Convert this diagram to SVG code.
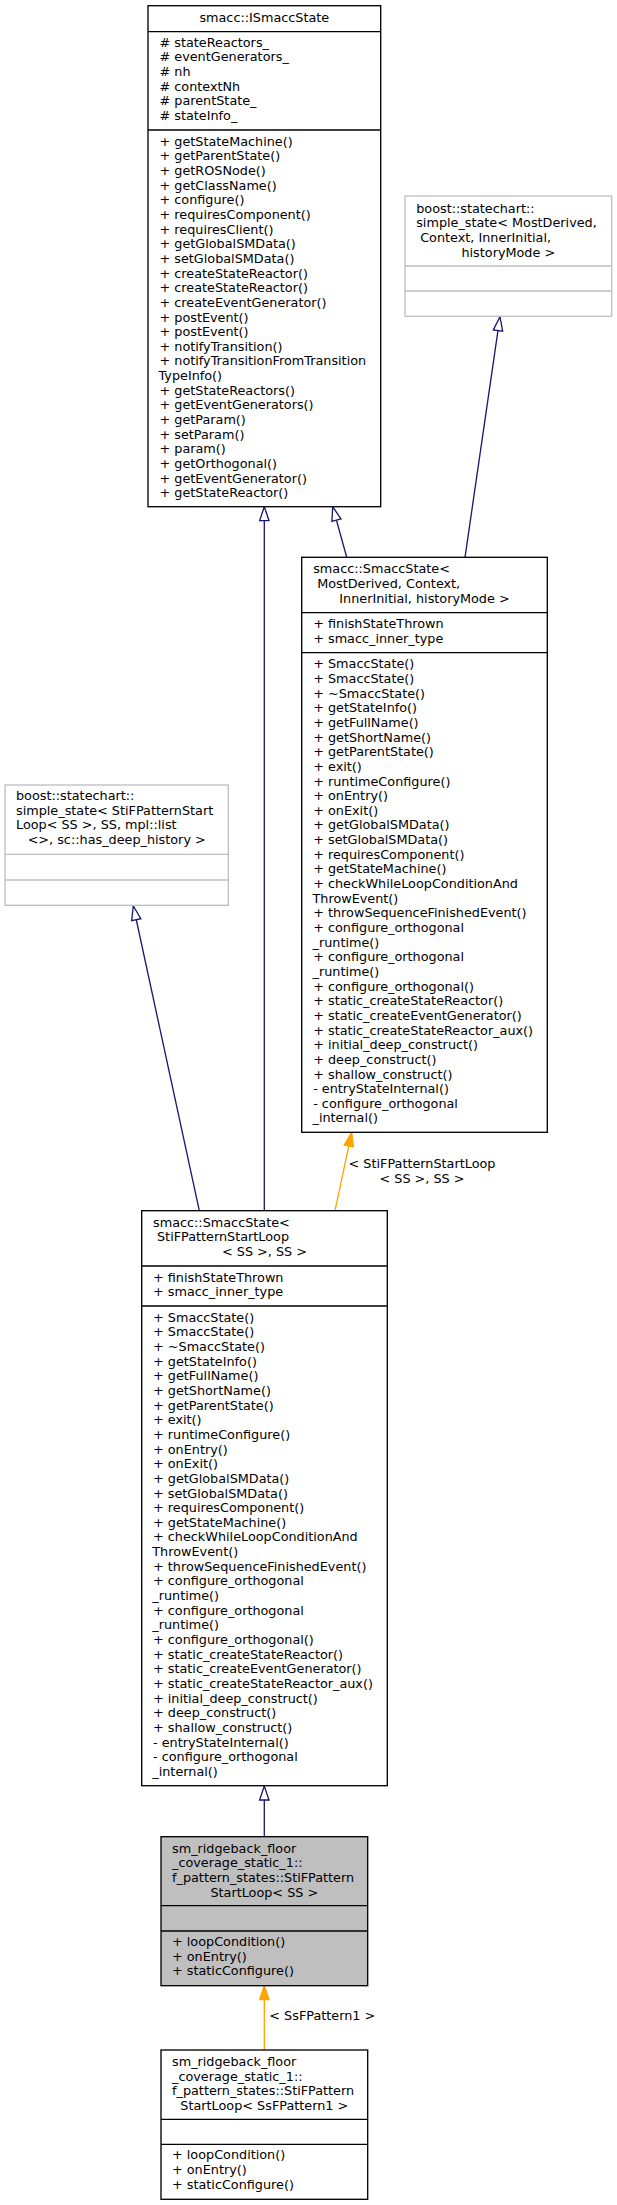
<svg xmlns="http://www.w3.org/2000/svg" width="617" height="2205" viewBox="0 0 617 2205">
<style>
text{font-family:"DejaVu Sans","Liberation Sans",sans-serif;font-size:12.8px;fill:#000}
.c{text-anchor:middle}
.box{fill:#fff;stroke:#000;stroke-width:1.33}
.ext{fill:#fff;stroke:#bfbfbf;stroke-width:1.33}
.hl{fill:#bfbfbf;stroke:#000;stroke-width:1.33}
.sep{stroke:#000;stroke-width:1.33}
.sepx{stroke:#bfbfbf;stroke-width:1.33}
.eb{stroke:#191970;stroke-width:1.33;fill:none}
.eo{stroke:#ffa500;stroke-width:1.33;fill:none}
</style>
<defs>
<marker id="hollow" markerUnits="userSpaceOnUse" markerWidth="20" markerHeight="20" refX="14" refY="5" orient="auto" overflow="visible">
<path d="M0,0.3 L14,5 L0,9.7 Z" fill="#fff" stroke="#191970" stroke-width="1.33"/>
</marker>
<marker id="filled" markerUnits="userSpaceOnUse" markerWidth="20" markerHeight="20" refX="14" refY="5" orient="auto" overflow="visible">
<path d="M0,0.3 L14,5 L0,9.7 Z" fill="#ffa500" stroke="#ffa500" stroke-width="1.33"/>
</marker>
</defs>

<g id="connectors">
<path class="eb" d="M264.3,1210.7 L264.3,506.7" marker-end="url(#hollow)"/>
<path class="eb" d="M346.7,557.3 L332.7,506.7" marker-end="url(#hollow)"/>
<path class="eb" d="M465,557.3 L500,316.7" marker-end="url(#hollow)"/>
<path class="eb" d="M199.3,1210.7 L133.3,906" marker-end="url(#hollow)"/>
<path class="eo" d="M335,1210.7 L351.7,1132.3" marker-end="url(#filled)"/>
<text x="422" y="1168.3" class="c">&lt; StiFPatternStartLoop</text>
<text x="422" y="1182.9" class="c">&lt; SS &gt;, SS &gt;</text>
<path class="eb" d="M264.3,1836.7 L264.3,1786" marker-end="url(#hollow)"/>
<path class="eo" d="M264.3,2050 L264.3,1985.7" marker-end="url(#filled)"/>
<text x="269.3" y="2020">&lt; SsFPattern1 &gt;</text>
</g>

<g id="node-ISmaccState">
<rect class="box" x="148" y="5.7" width="232.7" height="501"/>
<line class="sep" x1="148" y1="31.7" x2="380.7" y2="31.7"/>
<line class="sep" x1="148" y1="130" x2="380.7" y2="130"/>
<text x="264.3" y="21.7" class="c">smacc::ISmaccState</text>
<text x="159.5" y="46.7"># stateReactors_</text>
<text x="159.5" y="61.35"># eventGenerators_</text>
<text x="159.5" y="76"># nh</text>
<text x="159.5" y="90.65"># contextNh</text>
<text x="159.5" y="105.3"># parentState_</text>
<text x="159.5" y="119.95"># stateInfo_</text>
<text x="159.5" y="145.7">+ getStateMachine()</text>
<text x="159.5" y="160.35">+ getParentState()</text>
<text x="159.5" y="175">+ getROSNode()</text>
<text x="159.5" y="189.65">+ getClassName()</text>
<text x="159.5" y="204.3">+ configure()</text>
<text x="159.5" y="218.95">+ requiresComponent()</text>
<text x="159.5" y="233.6">+ requiresClient()</text>
<text x="159.5" y="248.25">+ getGlobalSMData()</text>
<text x="159.5" y="262.9">+ setGlobalSMData()</text>
<text x="159.5" y="277.55">+ createStateReactor()</text>
<text x="159.5" y="292.2">+ createStateReactor()</text>
<text x="159.5" y="306.85">+ createEventGenerator()</text>
<text x="159.5" y="321.5">+ postEvent()</text>
<text x="159.5" y="336.15">+ postEvent()</text>
<text x="159.5" y="350.8">+ notifyTransition()</text>
<text x="159.5" y="365.45">+ notifyTransitionFromTransition</text>
<text x="158.5" y="380.1">TypeInfo()</text>
<text x="159.5" y="394.75">+ getStateReactors()</text>
<text x="159.5" y="409.4">+ getEventGenerators()</text>
<text x="159.5" y="424.05">+ getParam()</text>
<text x="159.5" y="438.7">+ setParam()</text>
<text x="159.5" y="453.35">+ param()</text>
<text x="159.5" y="468">+ getOrthogonal()</text>
<text x="159.5" y="482.65">+ getEventGenerator()</text>
<text x="159.5" y="497.3">+ getStateReactor()</text>
</g>

<g id="node-simple_state-MostDerived">
<rect class="ext" x="405" y="196" width="206.7" height="120.3"/>
<line class="sepx" x1="405" y1="266" x2="611.7" y2="266"/>
<line class="sepx" x1="405" y1="291" x2="611.7" y2="291"/>
<text x="416.2" y="212.7">boost::statechart::</text>
<text x="416.2" y="227.35">simple_state&lt; MostDerived,</text>
<text x="420.2" y="242">Context, InnerInitial,</text>
<text x="508.3" y="256.65" class="c">historyMode &gt;</text>
</g>

<g id="node-SmaccState-MostDerived">
<rect class="box" x="301.7" y="557.3" width="245.6" height="575"/>
<line class="sep" x1="301.7" y1="612.7" x2="547.3" y2="612.7"/>
<line class="sep" x1="301.7" y1="652.7" x2="547.3" y2="652.7"/>
<text x="313.2" y="573.3">smacc::SmaccState&lt;</text>
<text x="317.2" y="587.95">MostDerived, Context,</text>
<text x="424.5" y="602.6" class="c">InnerInitial, historyMode &gt;</text>
<text x="313.2" y="628.3">+ finishStateThrown</text>
<text x="313.2" y="642.95">+ smacc_inner_type</text>
<text x="313.2" y="668.3">+ SmaccState()</text>
<text x="313.2" y="682.95">+ SmaccState()</text>
<text x="313.2" y="697.6">+ ~SmaccState()</text>
<text x="313.2" y="712.25">+ getStateInfo()</text>
<text x="313.2" y="726.9">+ getFullName()</text>
<text x="313.2" y="741.55">+ getShortName()</text>
<text x="313.2" y="756.2">+ getParentState()</text>
<text x="313.2" y="770.85">+ exit()</text>
<text x="313.2" y="785.5">+ runtimeConfigure()</text>
<text x="313.2" y="800.15">+ onEntry()</text>
<text x="313.2" y="814.8">+ onExit()</text>
<text x="313.2" y="829.45">+ getGlobalSMData()</text>
<text x="313.2" y="844.1">+ setGlobalSMData()</text>
<text x="313.2" y="858.75">+ requiresComponent()</text>
<text x="313.2" y="873.4">+ getStateMachine()</text>
<text x="313.2" y="888.05">+ checkWhileLoopConditionAnd</text>
<text x="312.5" y="902.7">ThrowEvent()</text>
<text x="313.2" y="917.35">+ throwSequenceFinishedEvent()</text>
<text x="313.2" y="932">+ configure_orthogonal</text>
<text x="312.5" y="946.65">_runtime()</text>
<text x="313.2" y="961.3">+ configure_orthogonal</text>
<text x="312.5" y="975.95">_runtime()</text>
<text x="313.2" y="990.6">+ configure_orthogonal()</text>
<text x="313.2" y="1005.25">+ static_createStateReactor()</text>
<text x="313.2" y="1019.9">+ static_createEventGenerator()</text>
<text x="313.2" y="1034.55">+ static_createStateReactor_aux()</text>
<text x="313.2" y="1049.2">+ initial_deep_construct()</text>
<text x="313.2" y="1063.85">+ deep_construct()</text>
<text x="313.2" y="1078.5">+ shallow_construct()</text>
<text x="313.2" y="1093.15">- entryStateInternal()</text>
<text x="313.2" y="1107.8">- configure_orthogonal</text>
<text x="312.5" y="1122.45">_internal()</text>
</g>

<g id="node-simple_state-StiFPatternStartLoop">
<rect class="ext" x="5" y="785" width="223.3" height="120.3"/>
<line class="sepx" x1="5" y1="854.3" x2="228.3" y2="854.3"/>
<line class="sepx" x1="5" y1="880" x2="228.3" y2="880"/>
<text x="16" y="800">boost::statechart::</text>
<text x="16" y="814.65">simple_state&lt; StiFPatternStart</text>
<text x="16" y="829.3">Loop&lt; SS &gt;, SS, mpl::list</text>
<text x="116.7" y="843.95" class="c">&lt;&gt;, sc::has_deep_history &gt;</text>
</g>

<g id="node-SmaccState-StiFPatternStartLoop">
<rect class="box" x="141.7" y="1210.7" width="245.6" height="575"/>
<line class="sep" x1="141.7" y1="1266" x2="387.3" y2="1266"/>
<line class="sep" x1="141.7" y1="1306" x2="387.3" y2="1306"/>
<text x="153" y="1226.7">smacc::SmaccState&lt;</text>
<text x="157" y="1241.35">StiFPatternStartLoop</text>
<text x="264.5" y="1256" class="c">&lt; SS &gt;, SS &gt;</text>
<text x="153" y="1281.7">+ finishStateThrown</text>
<text x="153" y="1296.35">+ smacc_inner_type</text>
<text x="153" y="1321.7">+ SmaccState()</text>
<text x="153" y="1336.35">+ SmaccState()</text>
<text x="153" y="1351">+ ~SmaccState()</text>
<text x="153" y="1365.65">+ getStateInfo()</text>
<text x="153" y="1380.3">+ getFullName()</text>
<text x="153" y="1394.95">+ getShortName()</text>
<text x="153" y="1409.6">+ getParentState()</text>
<text x="153" y="1424.25">+ exit()</text>
<text x="153" y="1438.9">+ runtimeConfigure()</text>
<text x="153" y="1453.55">+ onEntry()</text>
<text x="153" y="1468.2">+ onExit()</text>
<text x="153" y="1482.85">+ getGlobalSMData()</text>
<text x="153" y="1497.5">+ setGlobalSMData()</text>
<text x="153" y="1512.15">+ requiresComponent()</text>
<text x="153" y="1526.8">+ getStateMachine()</text>
<text x="153" y="1541.45">+ checkWhileLoopConditionAnd</text>
<text x="152.3" y="1556.1">ThrowEvent()</text>
<text x="153" y="1570.75">+ throwSequenceFinishedEvent()</text>
<text x="153" y="1585.4">+ configure_orthogonal</text>
<text x="152.3" y="1600.05">_runtime()</text>
<text x="153" y="1614.7">+ configure_orthogonal</text>
<text x="152.3" y="1629.35">_runtime()</text>
<text x="153" y="1644">+ configure_orthogonal()</text>
<text x="153" y="1658.65">+ static_createStateReactor()</text>
<text x="153" y="1673.3">+ static_createEventGenerator()</text>
<text x="153" y="1687.95">+ static_createStateReactor_aux()</text>
<text x="153" y="1702.6">+ initial_deep_construct()</text>
<text x="153" y="1717.25">+ deep_construct()</text>
<text x="153" y="1731.9">+ shallow_construct()</text>
<text x="153" y="1746.55">- entryStateInternal()</text>
<text x="153" y="1761.2">- configure_orthogonal</text>
<text x="152.3" y="1775.85">_internal()</text>
</g>

<g id="node-StiFPatternStartLoop-SS">
<rect class="hl" x="161" y="1836.7" width="206.7" height="149"/>
<line class="sep" x1="161" y1="1905.7" x2="367.7" y2="1905.7"/>
<line class="sep" x1="161" y1="1931" x2="367.7" y2="1931"/>
<text x="172" y="1852.7">sm_ridgeback_floor</text>
<text x="172" y="1867.35">_coverage_static_1::</text>
<text x="172" y="1882">f_pattern_states::StiFPattern</text>
<text x="264.3" y="1896.65" class="c">StartLoop&lt; SS &gt;</text>
<text x="172" y="1946">+ loopCondition()</text>
<text x="172" y="1960.65">+ onEntry()</text>
<text x="172" y="1975.3">+ staticConfigure()</text>
</g>

<g id="node-StiFPatternStartLoop-SsFPattern1">
<rect class="box" x="161" y="2050" width="206.7" height="149.3"/>
<line class="sep" x1="161" y1="2119.3" x2="367.7" y2="2119.3"/>
<line class="sep" x1="161" y1="2144.3" x2="367.7" y2="2144.3"/>
<text x="172" y="2066">sm_ridgeback_floor</text>
<text x="172" y="2080.65">_coverage_static_1::</text>
<text x="172" y="2095.3">f_pattern_states::StiFPattern</text>
<text x="264.3" y="2109.95" class="c">StartLoop&lt; SsFPattern1 &gt;</text>
<text x="172" y="2159.3">+ loopCondition()</text>
<text x="172" y="2174">+ onEntry()</text>
<text x="172" y="2188.6">+ staticConfigure()</text>
</g>
</svg>
